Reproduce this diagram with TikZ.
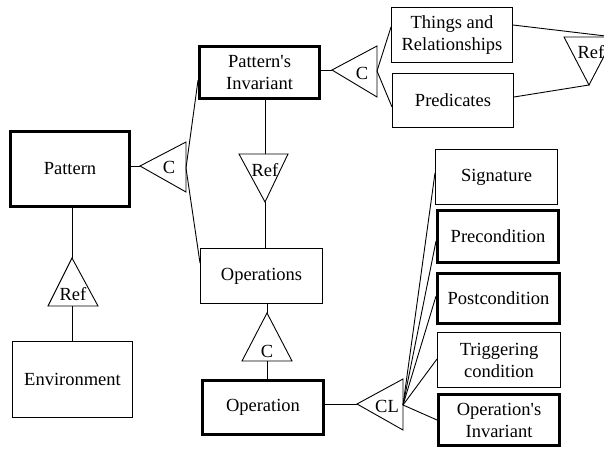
\documentclass[tikz,border=0pt]{standalone}
\usepackage{fontspec}
\setmainfont{Liberation Serif}
\begin{document}
\begin{tikzpicture}[x=1pt,y=-1pt,
  lbl/.style={font=\fontsize{18.5}{22}\selectfont},
  box/.style={lbl, draw, line width=1pt, align=center, inner sep=0pt},
  thickbox/.style={box, line width=3.4pt},
  conn/.style={line width=0.9pt},
  tri/.style={draw, line width=0.9pt, line join=miter},
  trilbl/.style={lbl, inner sep=0pt}]
\useasboundingbox (0,0) rectangle (604,449);
\clip (0,0) rectangle (604,449);

% boxes
\node[thickbox, minimum width=118.5pt, minimum height=74.5pt] (Pattern) at (70,169) {Pattern};
\node[thickbox, minimum width=119.5pt, minimum height=51.5pt] (PatInv) at (259.5,72.5) {Pattern\textquotesingle s\\Invariant};
\node[box, minimum width=121pt, minimum height=55pt] (Things) at (452,35) {Things and\\Relationships};
\node[box, minimum width=121pt, minimum height=54pt] (Predicates) at (453,100.5) {Predicates};
\node[box, minimum width=122pt, minimum height=55pt] (Operations) at (261.5,276) {Operations};
\node[thickbox, minimum width=120.5pt, minimum height=53.5pt] (Operation) at (263,407.5) {Operation};
\node[box, minimum width=120pt, minimum height=76pt] (Environment) at (72.5,379.5) {Environment};
\node[box, minimum width=122pt, minimum height=55pt] (Signature) at (496.5,177) {Signature};
\node[thickbox, minimum width=120.5pt, minimum height=51.5pt] (Precondition) at (498,236.5) {Precondition};
\node[thickbox, minimum width=121.5pt, minimum height=49.5pt] (Postcondition) at (498.5,298.5) {Postcondition};
\node[box, minimum width=123pt, minimum height=55pt] (Triggering) at (499,360) {Triggering\\condition};
\node[thickbox, minimum width=120.5pt, minimum height=50.5pt] (OpInv) at (499,420) {Operation\textquotesingle s\\Invariant};

% triangle corner coordinates
\coordinate (cPtip) at (140,166); \coordinate (cPtop) at (186,142);
\coordinate (cPbot) at (186,192); \coordinate (cPmid) at (186,168);
\coordinate (cItip) at (332,70);  \coordinate (cItop) at (377,46);
\coordinate (cIbot) at (377,97);  \coordinate (cImid) at (377,71);
\coordinate (refRtl) at (564,37); \coordinate (refRtr) at (614,37);
\coordinate (refRtip) at (589,85);
\coordinate (refMtl) at (239,154); \coordinate (refMtr) at (288,154);
\coordinate (refMtop) at (265,154); \coordinate (refMtip) at (265,202);
\coordinate (refEapex) at (72,258); \coordinate (refEbl) at (48,306);
\coordinate (refEbr) at (98,306); \coordinate (refEbase) at (72,306);
\coordinate (cOapex) at (267,313); \coordinate (cObl) at (242,361);
\coordinate (cObr) at (292,361); \coordinate (cObase) at (267,361);
\coordinate (CLtip) at (357,404); \coordinate (CLtop) at (403,379);
\coordinate (CLbot) at (403,430); \coordinate (CLmid) at (403,405);

% triangles
\draw[tri] (cPtip) -- (cPtop) -- (cPbot) -- cycle;
\draw[tri] (cItip) -- (cItop) -- (cIbot) -- cycle;
\draw[tri] (refRtl) -- (refRtr) -- (refRtip) -- cycle;
\draw[tri] (refMtl) -- (refMtr) -- (refMtip) -- cycle;
\draw[tri] (refEapex) -- (refEbl) -- (refEbr) -- cycle;
\draw[tri] (cOapex) -- (cObl) -- (cObr) -- cycle;
\draw[tri] (CLtip) -- (CLtop) -- (CLbot) -- cycle;

% triangle labels
\node[trilbl] (cPl) at (169,167) {C};
\node[trilbl] (cIl) at (362,73) {C};
\node[trilbl] (refRl) at (591,52) {Ref};
\node[trilbl] (refMl) at (265,170) {Ref};
\node[trilbl] (refEl) at (73,294) {Ref};
\node[trilbl] (cOl) at (267,351) {C};
\node[trilbl] (CLl) at (387,406) {CL};

% connectors
\draw[conn] (Pattern.east |- cPtip) -- (cPtip);
\draw[conn] ([yshift=-7.5pt]PatInv.west) -- (cPmid) -- ([yshift=13pt]Operations.west);
\draw[conn] (PatInv.south -| refMtop) -- (refMtop);
\draw[conn] (refMtip) -- (Operations.north -| refMtip);
\draw[conn] (Operations.south -| cOapex) -- (cOapex);
\draw[conn] (cObase) -- (Operation.north -| cObase);
\draw[conn] (Operation.east |- CLtip) -- (CLtip);
\draw[conn] (PatInv.east |- cItip) -- (cItip);
\draw[conn] ([yshift=8pt]Things.west) -- (cImid) -- ([yshift=-6.5pt]Predicates.west);
\draw[conn] ([yshift=10pt]Things.east) -- (refRtr);
\draw[conn] ([yshift=3.5pt]Predicates.east) -- (refRtip);
\draw[conn] (Pattern.south -| refEapex) -- (refEapex);
\draw[conn] (refEbase) -- (Environment.north -| refEbase);
\draw[conn] (CLmid) -- ([yshift=4pt]Signature.west);
\draw[conn] (CLmid) -- ([yshift=-4.5pt]Precondition.west);
\draw[conn] (CLmid) -- ([yshift=2.5pt]Postcondition.west);
\draw[conn] (CLmid) -- ([yshift=1pt]Triggering.west);
\draw[conn] (CLmid) -- (OpInv.west);
\end{tikzpicture}
\end{document}
